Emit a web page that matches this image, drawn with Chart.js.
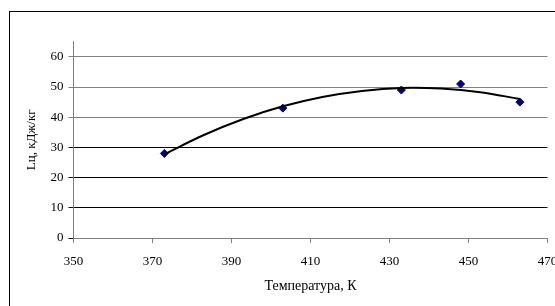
<!DOCTYPE html>
<html>
<head>
<meta charset="utf-8">
<script src="https://cdn.jsdelivr.net/npm/chart.js@4/dist/chart.umd.min.js"></script>
<style>
  html, body { margin: 0; padding: 0; background: #fff; overflow: hidden; }
  #wrap { width: 555px; height: 306px; position: relative; }
</style>
</head>
<body>
<div id="wrap"><canvas id="c" width="555" height="306"></canvas></div>
<script>
// Data
const temperatures = [373, 403, 433, 448, 463];
const workValues = [28, 43, 49, 51, 45];
// Trendline
const trendTemps = [373, 383, 393, 403, 413, 423, 433, 443, 453, 463];
const trendValues = [27.7, 34.1, 39.4, 43.6, 46.7, 48.7, 49.7, 49.5, 48.3, 46.0];
const yTickValues = [0, 10, 20, 30, 40, 50, 60];
const xTitle = 'Температура, К';
const yTitle = 'Lц, кДж/кг';

const pointsData = temperatures.map((t, i) => ({ x: t, y: workValues[i] }));
const trendData = trendTemps.map((t, i) => ({ x: t, y: trendValues[i] }));

const frame = {
  id: 'frame',
  beforeDraw(chart) {
    const ctx = chart.ctx;
    ctx.save();
    ctx.fillStyle = '#fff';
    ctx.fillRect(0, 0, chart.width, chart.height);
    ctx.strokeStyle = '#000';
    ctx.lineWidth = 1;
    ctx.strokeRect(9.5, 11.5, 700, 400);
    ctx.restore();
  }
};

const font = { family: '"Liberation Serif", "Times New Roman", serif', size: 13 };
const xTitleFont = { family: '"Liberation Serif", "Times New Roman", serif', size: 14 };

new Chart(document.getElementById('c'), {
  type: 'scatter',
  data: {
    datasets: [
      {
        label: 'trend',
        data: trendData,
        showLine: true,
        borderColor: '#000',
        borderWidth: 2,
        pointRadius: 0,
        tension: 0.4,
        fill: false,
        order: 0
      },
      {
        label: 'data',
        data: pointsData,
        pointStyle: 'rectRot',
        pointRadius: 4,
        backgroundColor: '#00007f',
        borderColor: '#00007f',
        borderWidth: 1,
        order: 1
      }
    ]
  },
  options: {
    responsive: false,
    animation: false,
    devicePixelRatio: 1,
    layout: { padding: { left: 0, top: 41.7, right: 7.5, bottom: 0 } },
    plugins: { legend: { display: false }, tooltip: { enabled: false } },
    scales: {
      x: {
        type: 'linear',
        min: 350, max: 470,
        ticks: { stepSize: 20, color: '#000', font: font, padding: 11, maxRotation: 0 },
        grid: { drawOnChartArea: false, drawTicks: true, tickLength: 5, color: '#808080' },
        border: { color: '#808080', width: 1 },
        title: { display: true, text: xTitle, color: '#000', font: xTitleFont, padding: { top: 0, bottom: 11 } },
        afterFit(scale) { scale.height = 68; scale.paddingLeft = 0; scale.paddingRight = 0; }
      },
      y: {
        type: 'linear',
        min: 0, max: 65,
        afterBuildTicks(scale) { scale.ticks = yTickValues.map(v => ({ value: v })); },
        ticks: { color: '#000', font: font, padding: 5 },
        grid: {
          drawTicks: true, tickLength: 5,
          color: (c) => (c.tick && c.tick.value >= 40 ? '#808080' : '#000000'),
          lineWidth: 1
        },
        border: { color: '#808080', width: 1 },
        title: { display: true, text: yTitle, color: '#000', font: font, padding: { top: 24, bottom: 0 } },
        afterFit(scale) { scale.width = 73.5; scale.paddingTop = 0; scale.paddingBottom = 0; }
      }
    }
  },
  plugins: [frame]
});
</script>
</body>
</html>
